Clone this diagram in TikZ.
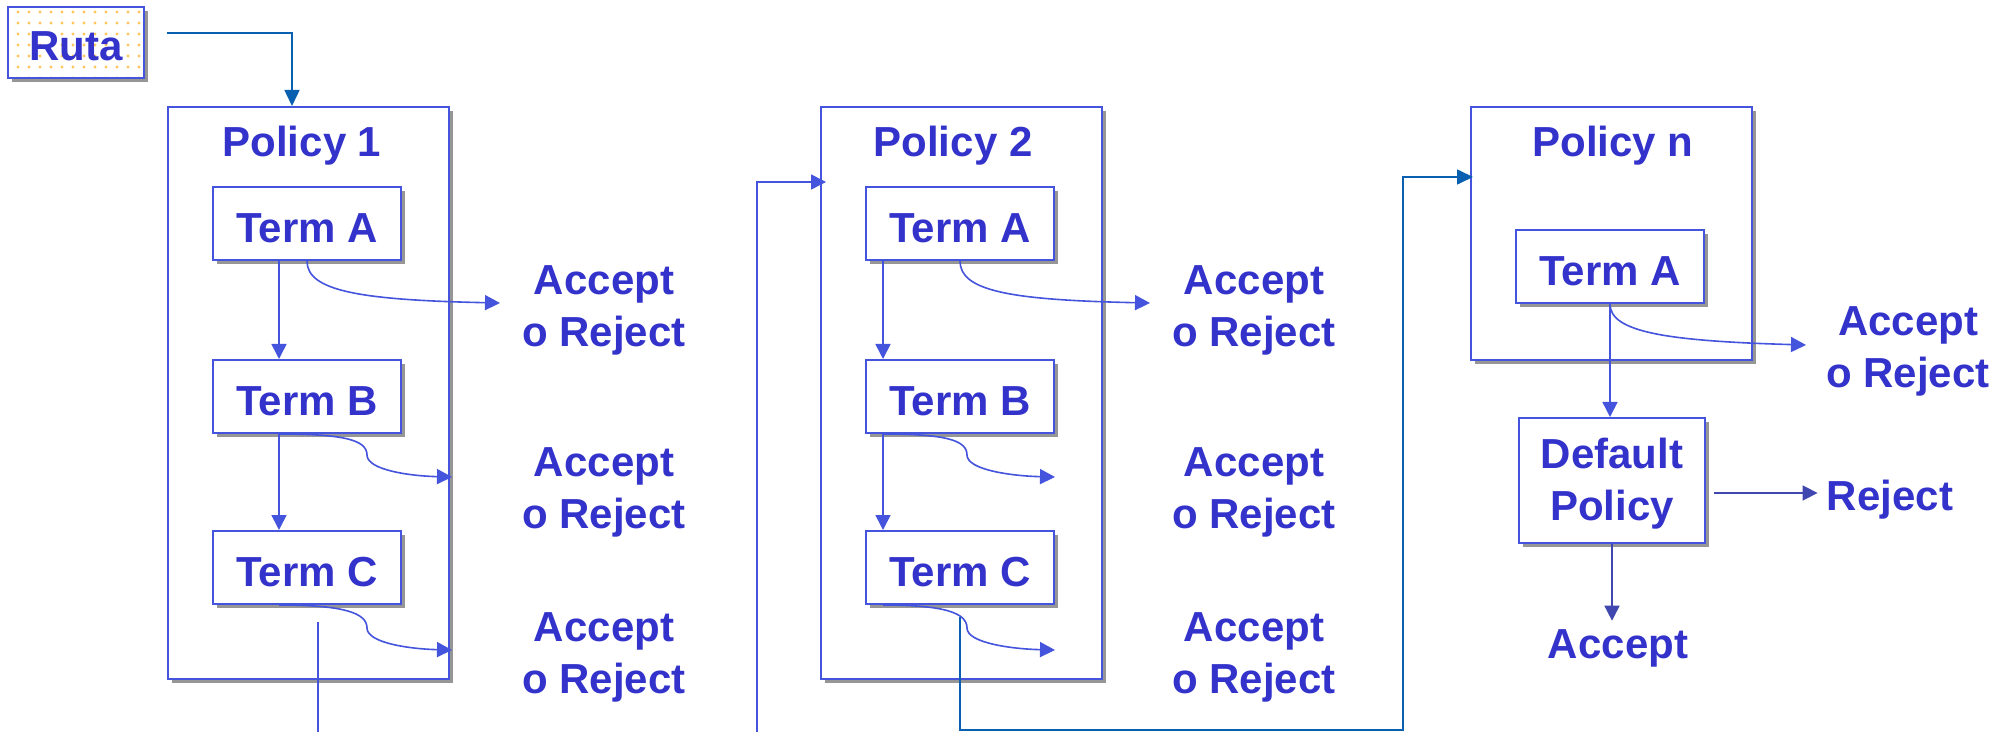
\documentclass[tikz,border=0pt]{standalone}
\usepackage{fontspec}
\setmainfont{Liberation Sans}
\usetikzlibrary{arrows.meta,shadows,calc}
\definecolor{txtblue}{RGB}{51,51,204}
\definecolor{lineblue}{RGB}{68,84,221}
\definecolor{linkblue}{RGB}{10,96,176}
\definecolor{outblue}{RGB}{64,72,176}
\definecolor{shadowgray}{RGB}{150,150,150}
\definecolor{dotorange}{RGB}{255,196,90}
\begin{document}
\begin{tikzpicture}[x=0.5pt,y=-0.5pt,
  font=\fontsize{21}{26}\selectfont\bfseries,
  shadowed/.style={drop shadow={shadow xshift=2pt,shadow yshift=-2pt,fill=shadowgray,opacity=1}},
  policybox/.style={draw=lineblue,line width=1pt,fill=white,shadowed,minimum width=140.5pt,inner sep=0pt},
  termbox/.style={draw=lineblue,line width=1pt,fill=white,shadowed,minimum width=94pt,minimum height=36.5pt,inner sep=0pt,text=txtblue,text height=19pt,text depth=0pt},
  rutabox/.style={draw=lineblue,line width=1pt,fill=white,shadowed,minimum width=68pt,minimum height=35.5pt,inner sep=0pt,text=txtblue,text height=18pt,text depth=0pt,
    path picture={\foreach \i in {0,...,12}{\foreach \j in {0,...,6}{\fill[dotorange] ([shift={(\i*5.5pt+5pt,-\j*5.5pt-2.5pt)}]path picture bounding box.north west) circle[radius=0.85pt];}}}},
  lbl/.style={text=txtblue,align=center,inner sep=0pt},
  pairlbl/.style={lbl,text depth=0pt},
  flow/.style={draw=lineblue,line width=0.8pt,-{Triangle[length=7.5pt,width=7.5pt]}},
  plainline/.style={draw=lineblue,line width=0.8pt},
  link/.style={draw=linkblue,line width=0.8pt,-{Triangle[length=8pt,width=7.5pt]}},
  outflow/.style={draw=outblue,line width=0.8pt,-{Triangle[length=7.5pt,width=7.5pt]}}
]
\useasboundingbox (0,0) rectangle (2002,732);

% guide coordinates
\coordinate (bottom) at (0,732);
\coordinate (bot) at (0,730);
\coordinate (x0) at (292,0);
\coordinate (x1) at (279,0);
\coordinate (x2) at (883,0);
\coordinate (xn) at (1403,0);
\coordinate (h2) at (0,182);
\coordinate (hn) at (0,177);

% source route
\node[rutabox] (ruta) at (76,42.5) {Ruta};

% policy frames and titles
\node[policybox,minimum height=286pt] (p1) at (308.5,393) {};
\node[policybox,minimum height=286pt] (p2) at (961.5,393) {};
\node[policybox,minimum height=126.5pt] (pn) at (1611.5,233.5) {};
\node[lbl,anchor=base] (t1) at (302,157) {Policy 1};
\node[lbl,anchor=base] (t2) at (953,157) {Policy 2};
\node[lbl,anchor=base] (tn) at (1613,157) {Policy n};

% terms
\node[termbox] (a1) at (307,223.5) {Term A};
\node[termbox] (b1) at (307,396.5) {Term B};
\node[termbox] (c1) at (307,567.5) {Term C};
\node[termbox] (a2) at (960,223.5) {Term A};
\node[termbox] (b2) at (960,396.5) {Term B};
\node[termbox] (c2) at (960,567.5) {Term C};
\node[termbox] (an) at (1610,266.5) {Term A};
\node[termbox,minimum width=93pt,minimum height=62.5pt,text height=40.3pt,text depth=0pt,align=center] (dp) at (1612,480.5) {Default\\Policy};

% results
\node[pairlbl] (r1a) at (604,306) {Accept\\o Reject};
\node[pairlbl] (r1b) at (604,488) {Accept\\o Reject};
\node[pairlbl] (r1c) at (604,653) {Accept\\o Reject};
\node[pairlbl] (r2a) at (1254,306) {Accept\\o Reject};
\node[pairlbl] (r2b) at (1254,488) {Accept\\o Reject};
\node[pairlbl] (r2c) at (1254,653) {Accept\\o Reject};
\node[pairlbl] (rn) at (1908,347) {Accept\\o Reject};
\node[lbl,anchor=base] (rej) at (1890,510) {Reject};
\node[lbl,anchor=base] (acc) at (1618,658) {Accept};

% arrow ends
\coordinate (e1a) at (500,303);
\coordinate (k1b) at (367,455);
\coordinate (e1b) at (452,477);
\coordinate (k1c) at (367,628);
\coordinate (e1c) at (452,650);
\coordinate (e2a) at (1150,303);
\coordinate (k2b) at (967,455);
\coordinate (e2b) at (1055,477);
\coordinate (k2c) at (967,628);
\coordinate (e2c) at (1055,650);
\coordinate (ena) at (1806,345);
\coordinate (rjs) at (1714,493);
\coordinate (o1) at (318,622);
\coordinate (in2) at (757,732);
\coordinate (o2) at (960,617);

% route into the first policy
\draw[link] ($(ruta.east |- 0,33)+(22,0)$) -| (x0 |- p1.north);

% policy 1
\draw[flow] (x1 |- a1.south) -- (x1 |- b1.north);
\draw[flow] (x1 |- b1.south) -- (x1 |- c1.north);
\draw[flow] (a1.south) .. controls +(0,30) and +(-140,-3) .. (e1a);
\draw[flow] (x1 |- b1.south) .. controls +(65,0) and +(0,-15) .. (k1b) .. controls +(0,15) and +(-42,-1) .. (e1b);
\draw[flow] (x1 |- c1.south) .. controls +(65,0) and +(0,-15) .. (k1c) .. controls +(0,15) and +(-42,-1) .. (e1c);
\draw[plainline] (o1) -- (o1 |- bottom);

% policy 2
\draw[flow] (in2) |- ($(p2.west |- h2)+(6,0)$);
\draw[flow] (x2 |- a2.south) -- (x2 |- b2.north);
\draw[flow] (x2 |- b2.south) -- (x2 |- c2.north);
\draw[flow] (a2.south) .. controls +(0,30) and +(-140,-3) .. (e2a);
\draw[flow] (x2 |- b2.south) .. controls +(62,0) and +(0,-15) .. (k2b) .. controls +(0,15) and +(-43,-1) .. (e2b);
\draw[flow] (x2 |- c2.south) .. controls +(62,0) and +(0,-15) .. (k2c) .. controls +(0,15) and +(-43,-1) .. (e2c);
\draw[link] (o2) -- (o2 |- bot) -| (xn |- hn) -- ($(pn.west |- hn)+(3,0)$);

% policy n and the default policy
\draw[flow] (an.south) .. controls +(0,28) and +(-140,-4) .. (ena);
\draw[flow] (an.south) -- (an.south |- dp.north);
\draw[outflow,shorten >=4.5pt] (rjs) -- (rej.west |- rjs);
\draw[outflow,shorten >=4pt] (dp.south) -- (dp.south |- acc.north);
\end{tikzpicture}
\end{document}
